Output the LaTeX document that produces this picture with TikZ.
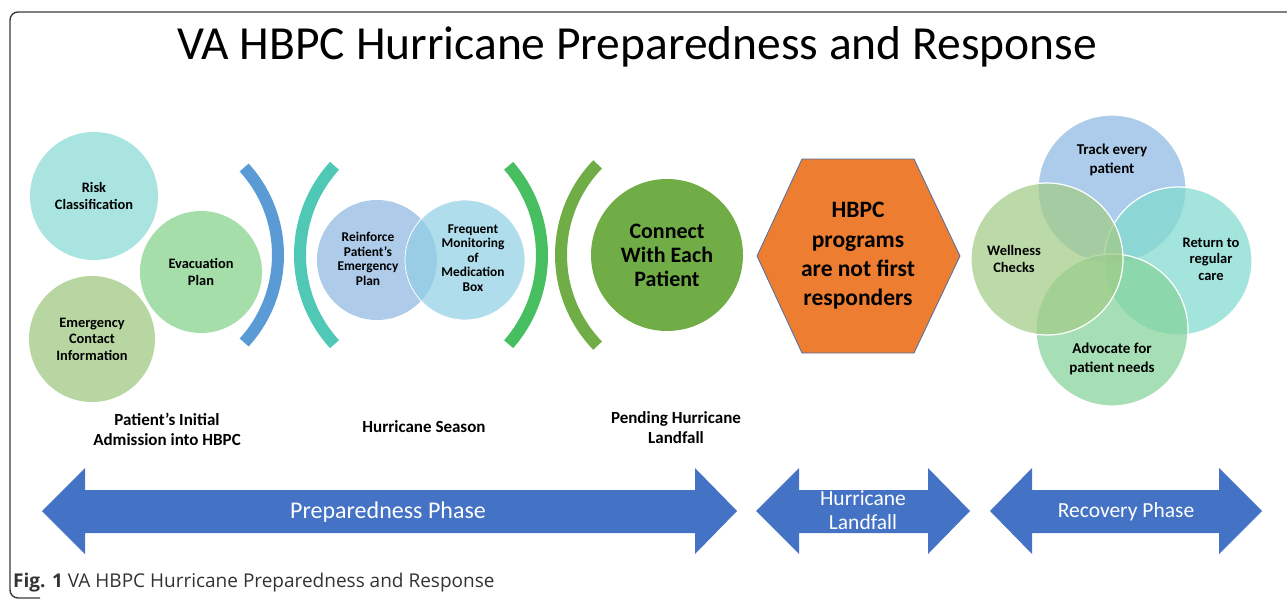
\documentclass[tikz,border=0pt]{standalone}
\usepackage{fontspec}
\setmainfont{Carlito}
\newfontfamily\capfont{Open Sans}
\definecolor{riskc}{HTML}{A9E4E1}
\definecolor{evacc}{HTML}{A6DEAA}
\definecolor{emerc}{HTML}{B8D6A2}
\definecolor{reinc}{HTML}{AECBEA}
\definecolor{freqc}{HTML}{8FCFE3}
\definecolor{connc}{HTML}{70AD47}
\definecolor{hexc}{HTML}{ED7D31}
\definecolor{hexb}{HTML}{4F6FA8}
\definecolor{arcblue}{HTML}{5B9BD5}
\definecolor{arcteal}{HTML}{4FC9B5}
\definecolor{arcgreen}{HTML}{47BE5F}
\definecolor{arcolive}{HTML}{70AD47}
\definecolor{arrowc}{HTML}{4472C4}
\definecolor{vtop}{HTML}{8DB9E3}
\definecolor{vleft}{HTML}{A2CB86}
\definecolor{vright}{HTML}{80D9CF}
\definecolor{vbot}{HTML}{84D39A}
\definecolor{framec}{HTML}{3A3A3A}
\definecolor{capc}{HTML}{333333}
\begin{document}
\begin{tikzpicture}[x=1pt,y=-1pt,
  bubble/.style={circle,draw=none,align=center,inner sep=0pt,
    font=\bfseries\fontsize{14.4}{16.5}\selectfont},
  vennc/.style={circle,draw=white,line width=1.2pt,fill opacity=0.72,text opacity=1,
    align=center,inner sep=0pt,minimum size=148pt},
  venntext/.style={font=\bfseries\fontsize{15}{18.5}\selectfont,align=center},
  smalltext/.style={font=\bfseries\fontsize{13.4}{14.5}\selectfont,align=center},
  bracket/.style={line width=12pt},
  phase/.style={font=\bfseries\fontsize{17}{20}\selectfont,align=center},
  blockarrow/.style={fill=arrowc,draw=none},
  arrowtext/.style={text=white,align=center},
]
\useasboundingbox (0,0) rectangle (1287,599);
% frame
\draw[framec,line width=1.4pt,rounded corners=8] (1300,12) -- (10,12) -- (10,598) -- (40,598);

% title
\node[font=\fontsize{47.5}{52}\selectfont] (title) at (637,47) {VA HBPC Hurricane Preparedness and Response};

% admission circles
\node[bubble,fill=riskc,minimum size=128pt] (risk) at (94,196) {Risk\\Classification};
\node[bubble,fill=evacc,minimum size=122pt] (evac) at (201,272) {Evacuation\\Plan};
\node[bubble,fill=emerc,minimum size=126pt] (emer) at (92,339) {Emergency\\Contact\\Information};

% brackets
\draw[bracket,arcblue] (148,255) ++(-42.3:130) arc[start angle=-42.3,end angle=42.3,radius=130];
\draw[bracket,arcteal] (432.5,255) ++(137.7:132.5) arc[start angle=137.7,end angle=222.3,radius=132.5];
\draw[bracket,arcgreen] (406,255) ++(-41:136) arc[start angle=-41,end angle=41,radius=136];
\draw[bracket,arcolive] (691.5,255) ++(136:130.5) arc[start angle=136,end angle=224,radius=130.5];

% hurricane season circles
\node[bubble,fill=reinc,minimum size=120pt] (rein) at (377,260) {};
\node[bubble,fill=freqc,fill opacity=0.7,draw=white,line width=0.8pt,minimum size=120pt] (freq) at (465,260) {};
\node[smalltext] (reint) at (368,259) {Reinforce\\Patient’s\\Emergency\\Plan};
\node[smalltext] (freqt) at (473,258) {Frequent\\Monitoring\\of\\Medication\\Box};

% connect
\node[bubble,fill=connc,minimum size=152pt,font=\bfseries\fontsize{22}{24}\selectfont] (conn) at (667,255) {Connect\\With Each\\Patient};

% hexagon
\fill[hexc,draw=hexb,line width=0.8pt] (757,256) -- (802,159) -- (914,159) -- (960,256) -- (914,353) -- (802,353) -- cycle;
\node[align=center,font=\bfseries\fontsize{23.5}{29.3}\selectfont] (hex) at (858,256) {HBPC\\programs\\are not first\\responders};

% recovery venn
\node[vennc,fill=vtop] (track) at (1112,189) {};
\node[vennc,fill=vright] (ret) at (1178,261) {};
\node[vennc,fill=vbot,minimum size=152pt] (adv) at (1112,330) {};
\node[vennc,fill=vleft,minimum size=152pt] (well) at (1047,259) {};
\node[venntext] (trackt) at (1112,160) {Track every\\patient};
\node[venntext,font=\bfseries\fontsize{14.5}{16.5}\selectfont] (wellt) at (1014,259) {Wellness\\Checks};
\node[venntext,font=\bfseries\fontsize{14.5}{16.5}\selectfont] (rett) at (1211,259) {Return to\\regular\\care};
\node[venntext] (advt) at (1112,359) {Advocate for\\patient needs};

% phase labels
\node[phase] (adm) at (167,429) {Patient’s Initial\\Admission into HBPC};
\node[phase] (season) at (424,427) {Hurricane Season};
\node[phase] (pend) at (676,428) {Pending Hurricane\\Landfall};

% block arrows
\fill[blockarrow] (42,511) -- (85,468) -- (85,490) -- (695,490) -- (695,468) -- (737,511) -- (695,554) -- (695,533) -- (85,533) -- (85,554) -- cycle;
\fill[blockarrow] (756,511) -- (799,468) -- (799,490) -- (928,490) -- (928,468) -- (970,511) -- (928,554) -- (928,533) -- (799,533) -- (799,554) -- cycle;
\fill[blockarrow] (990,511) -- (1032,468) -- (1032,490) -- (1219,490) -- (1219,468) -- (1262,511) -- (1219,554) -- (1219,533) -- (1032,533) -- (1032,554) -- cycle;
\node[arrowtext,font=\fontsize{24}{26}\selectfont] (prep) at (388,512) {Preparedness Phase};
\node[arrowtext,font=\fontsize{21.5}{24}\selectfont] (land) at (863,510) {Hurricane\\Landfall};
\node[arrowtext,font=\fontsize{21.5}{24}\selectfont] (rec) at (1126,512) {Recovery Phase};

% caption
\node[anchor=base west,text=capc,font=\capfont\fontsize{19}{22}\selectfont,inner sep=0pt] (cap) at (13,587) {\textbf{Fig. 1} VA HBPC Hurricane Preparedness and Response};
\end{tikzpicture}
\end{document}
